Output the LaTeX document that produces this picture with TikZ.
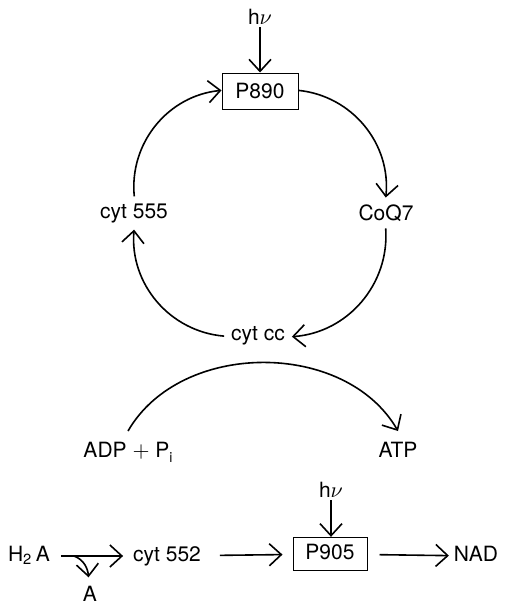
\documentclass[tikz,border=0pt]{standalone}
\usepackage{fontspec}
\setmainfont{TeX Gyre Heros}
\usetikzlibrary{arrows.meta}

\begin{document}
\begin{tikzpicture}[x=0.5pt, y=0.5pt, >={Straight Barb[length=6pt,width=11pt]},
    font=\fontsize{10.5}{12}\selectfont,
    flow/.style={->, line width=0.8pt},
    pbox/.style={draw, line width=0.5pt, minimum width=38pt, minimum height=18pt},
    photon/.style={inner sep=1pt},
    rowtext/.style={text height=7.5pt, text depth=2.5pt}]
  \useasboundingbox (0,0) rectangle (509,-605);
  % ── Cycle around P890 ─────────────────────────────────────────
  \node[photon] (hv1) at (260,-17) {h$\nu$};
  \node[pbox] (p890) at (260,-91) {P890};
  \node (coq7) at (386,-213) {CoQ7};
  \node (cytcc) at (258,-336) {cyt cc};
  \node (cyt555) at (134,-213) {cyt 555};
  \draw[flow] (hv1) -- (p890);
  \draw[flow] (p890) to[bend left=45] (coq7);
  \draw[flow] (coq7) to[bend left=45] (cytcc);
  \draw[flow] (cytcc) to[bend left=45] (cyt555);
  \draw[flow] (cyt555) to[bend left=45] (p890);
  % ── Phosphorylation arc ───────────────────────────────────────
  \node[anchor=base, outer sep=2pt] (adp) at (128,-457) {ADP $+$ P\raisebox{-2.5pt}{\scriptsize i}};
  \node[anchor=base, outer sep=2pt] (atp) at (398,-457) {ATP};
  \draw[flow] (adp.north) to[bend left=60] (atp.north);
  % ── Linear chain through P905 ─────────────────────────────────
  \node[rowtext] (h2a) at (29,-556) {H\textsubscript{2}\,A};
  \node[rowtext] (cyt552) at (167,-556) {cyt 552};
  \node[pbox, rowtext, minimum width=37pt, minimum height=16.5pt] (p905) at (330,-554) {P905};
  \node[rowtext] (nad) at (476,-556) {NAD};
  \node[photon] (hv2) at (331,-490) {h$\nu$};
  \node (a) at (90,-594) {A};
  \coordinate (split) at (74,-556);
  \draw[flow, shorten <=2pt, shorten >=1.5pt] (h2a) -- (cyt552);
  \draw[flow, shorten >=1pt] (split) to[out=-20, in=95] (a);
  \draw[flow, shorten <=6pt, shorten >=5pt] (cyt552) -- (p905);
  \draw[flow, shorten <=6pt, shorten >=-1pt] (p905) -- (nad);
  \draw[flow] (hv2) -- (hv2 |- p905.north);
\end{tikzpicture}
\end{document}
